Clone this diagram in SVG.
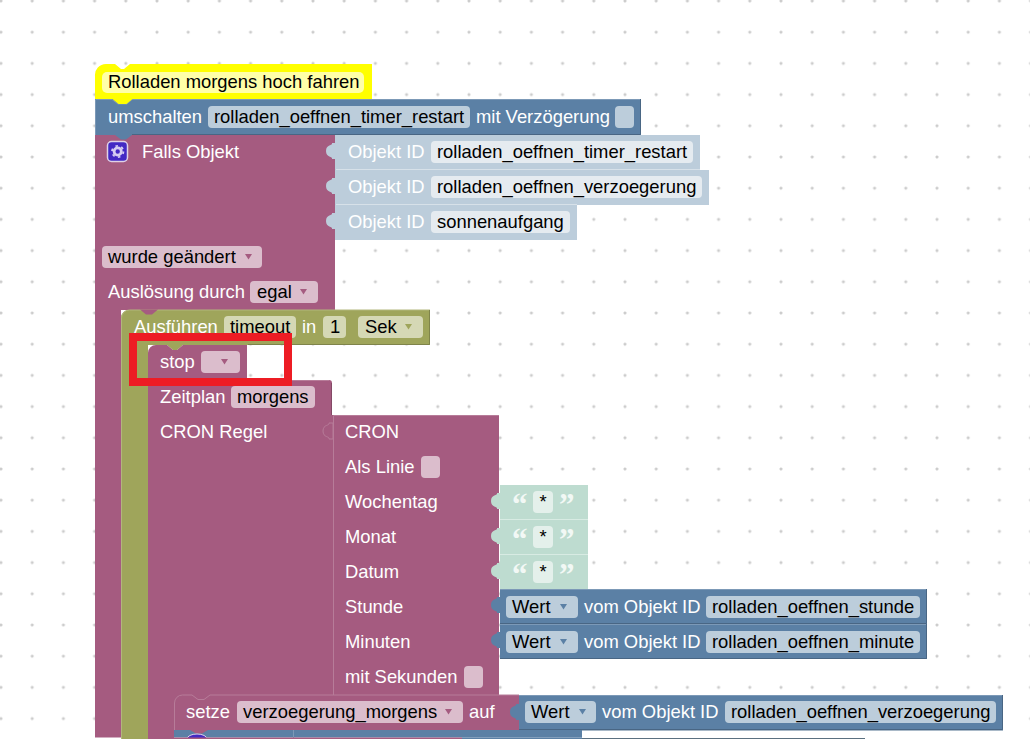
<svg xmlns="http://www.w3.org/2000/svg" width="1030" height="739" viewBox="0 0 1030 739">
<style>
text{font-family:"Liberation Sans",Arial,sans-serif;font-size:18.4px}
.w{fill:#fff}.d{fill:#000}
.pu{fill:#a55b80}.bl{fill:#5b80a5}.ol{fill:#9fa55b}.lb{fill:#bccddb}.gr{fill:#bedcd0}
.fp{fill:#dbbdcc}.fb{fill:#bccddb}.fo{fill:#d5d8b5}.fl{fill:#e5ebf0}.fg{fill:#e4f0eb}
.q{fill:#f2f8f5;font-family:"Liberation Serif",serif;font-weight:bold;font-size:31px}
.dpu,.dbl,.dol{fill:none;stroke-width:1}
.dpu{stroke:#844966}.dbl{stroke:#496684}.dol{stroke:#7f844a}
.hpu{stroke:#b77c99;fill:none}.hbl{stroke:#7c99b7;fill:none}.hol{stroke:#b2b77c;fill:none}.hlb{stroke:#d7e1e9;fill:none}.hgr{stroke:#d8ebe3;fill:none}
</style>
<defs>
<pattern id="grid" x="0" y="0" width="31.2" height="31.2" patternUnits="userSpaceOnUse"><circle cx="1" cy="1" r="1.5" fill="#ccc"/><circle cx="32.2" cy="1" r="1.5" fill="#ccc"/><circle cx="1" cy="32.2" r="1.5" fill="#ccc"/></pattern>
<path id="tab" d="M1,0 L-3,0 C-2,3 -9,1 -9,8 C-9,15 -2,13 -3,16 L1,16 z"/>
<polygon id="arrow" points="0,0 7,0 3.5,5.5"/>
</defs>
<rect width="1030" height="739" fill="#fff"/>
<rect width="1030" height="739" fill="url(#grid)"/>
<g id="connectors"/>
<g id="comment-hat">
<path d="M95,99 V76 a11,11 0 0 1 11,-12 h9 l6,5 h3 l6,-5 H372 V99 z" fill="#ffff00"/>
<rect x="102" y="72" width="262" height="21" rx="5" fill="#ffffa8"/>
<text x="108" y="88" class="d">Rolladen morgens hoch fahren</text>
</g>
<g id="falls-objekt">
<path class="pu" d="M95,135 H335 V310 H121 V739 H95 z"/>
<rect x="107.500" y="141.500" width="20" height="20" rx="4" fill="#4329c4" stroke="#e0d2e6" stroke-width="1.500"/>
<circle cx="117.700" cy="151.500" r="3.600" fill="none" stroke="#d6cdf2" stroke-width="2.800"/>
<circle cx="117.700" cy="151.500" r="5.700" fill="none" stroke="#d6cdf2" stroke-width="1.800" stroke-dasharray="2.500 3.470"/>
<text x="142" y="158" class="w">Falls Objekt</text>
<rect x="102" y="246" width="160" height="22" rx="4" class="fp"/>
<text x="108" y="263" class="d">wurde geändert</text>
<use href="#arrow" x="245" y="254" class="pu"/>
<text x="108" y="298" class="w">Auslösung durch</text>
<rect x="250" y="281" width="68" height="22" rx="4" class="fp"/>
<text x="257" y="298" class="d">egal</text>
<use href="#arrow" x="300" y="289" class="pu"/>
</g>
<g id="umschalten">
<path class="bl" d="M95,99 H641 V135 H132 l-6,4.500 h-5 l-6,-4.500 H95 z"/>
<path class="hbl" d="M95.500,135 V99.500 H112 l6,4.500 h9 l5,-4.500 H641"/>
<path class="dbl" d="M640.500,99 V134.500 H132"/>
<path d="M112.500,99 l6,5 h8 l6,-5 z" fill="#ffff00"/>
<text x="108" y="123" class="w">umschalten</text>
<rect x="208" y="106" width="262" height="22" rx="4" class="fb"/>
<text x="214" y="123" class="d">rolladen_oeffnen_timer_restart</text>
<text x="476" y="123" class="w">mit Verzögerung</text>
<rect x="615" y="106" width="19" height="22" rx="4" class="fb"/>
</g>
<g id="objekt-1">
<rect x="335" y="135" width="365" height="35" class="lb"/>
<use href="#tab" x="335" y="143" class="lb"/>
<path class="hlb" d="M336,169.500 H700"/>
<text x="348" y="158" class="w">Objekt ID</text>
<rect x="431" y="141" width="262" height="22" rx="4" class="fl"/>
<text x="437" y="158" class="d">rolladen_oeffnen_timer_restart</text>
</g>
<g id="objekt-2">
<rect x="335" y="170" width="374" height="35" class="lb"/>
<use href="#tab" x="335" y="178" class="lb"/>
<path class="hlb" d="M336,204.500 H577"/>
<text x="348" y="193" class="w">Objekt ID</text>
<rect x="431" y="176" width="271" height="22" rx="4" class="fl"/>
<text x="437" y="193" class="d">rolladen_oeffnen_verzoegerung</text>
</g>
<g id="objekt-3">
<rect x="335" y="205" width="242" height="35" class="lb"/>
<use href="#tab" x="335" y="213" class="lb"/>
<text x="348" y="228" class="w">Objekt ID</text>
<rect x="431" y="211" width="139" height="22" rx="4" class="fl"/>
<text x="437" y="228" class="d">sonnenaufgang</text>
</g>
<g id="ausfuehren">
<path class="ol" d="M121,739 V318 a8,8 0 0 1 8,-8 H430 V345 H183 l-6,5 h-4 l-6,-5 H148 V739 z"/>
<path class="hol" d="M121.500,739 V318 a8,8 0 0 1 8,-8 H430"/>
<path class="dol" d="M429.500,310 V344.500 H248"/>
<path class="pu" d="M140,309.500 l6,5 h6 l6,-5 z"/>
<text x="134" y="333" class="w">Ausführen</text>
<rect x="224" y="316" width="72" height="22" rx="4" class="fo"/>
<text x="230" y="333" class="d">timeout</text>
<text x="302" y="333" class="w">in</text>
<rect x="323" y="316" width="23" height="22" rx="4" class="fo"/>
<text x="330" y="333" class="d">1</text>
<rect x="358" y="316" width="65" height="22" rx="4" class="fo"/>
<text x="365" y="333" class="d">Sek</text>
<use href="#arrow" x="405" y="324" class="ol"/>
</g>
<g id="stop">
<path class="pu" d="M148,380 V353 a8,8 0 0 1 8,-8 H167 l6,5 h4 l6,-5 H247 V380 z"/>
<text x="160" y="368" class="w">stop</text>
<rect x="201" y="351" width="39" height="22" rx="4" class="fp"/>
<use href="#arrow" x="221" y="359" class="pu"/>
</g>
<g id="zeitplan">
<path class="pu" d="M148,380 H329 a3,3 0 0 1 3,3 V415 H333 V695 H185 V705 H174 V739 H148 z"/>
<path class="hpu" d="M248,380.500 H329"/>
<path class="dpu" d="M331.500,383 V415"/>
<text x="160" y="403" class="w">Zeitplan</text>
<rect x="231" y="386" width="84" height="22" rx="4" class="fp"/>
<text x="237" y="403" class="d">morgens</text>
<text x="160" y="438" class="w">CRON Regel</text>
</g>
<g id="cron">
<rect x="333" y="415" width="166" height="280" class="pu"/>
<path class="hpu" d="M333.500,695 V415.500 H499"/>
<use href="#tab" x="332" y="423" class="pu" stroke="#b77c99"/>
<text x="345" y="438" class="w">CRON</text>
<text x="345" y="473" class="w">Als Linie</text>
<rect x="421" y="456" width="19" height="22" rx="4" class="fp"/>
<text x="345" y="508" class="w">Wochentag</text>
<text x="345" y="543" class="w">Monat</text>
<text x="345" y="578" class="w">Datum</text>
<text x="345" y="613" class="w">Stunde</text>
<text x="345" y="648" class="w">Minuten</text>
<text x="345" y="683" class="w">mit Sekunden</text>
<rect x="464" y="666" width="19" height="22" rx="4" class="fp"/>
</g>
<g id="text-wochentag">
<rect x="500" y="485" width="88" height="35" class="gr"/>
<path class="hgr" d="M500,519.500 H588"/>
<use href="#tab" x="500" y="493" class="gr"/>
<text x="512" y="515" class="q">“</text>
<rect x="533" y="491" width="20" height="22" rx="4" class="fg"/>
<text x="543" y="508" class="d" text-anchor="middle">*</text>
<text x="559" y="515" class="q">”</text>
</g>
<g id="text-monat">
<rect x="500" y="520" width="88" height="35" class="gr"/>
<path class="hgr" d="M500,554.500 H588"/>
<use href="#tab" x="500" y="528" class="gr"/>
<text x="512" y="550" class="q">“</text>
<rect x="533" y="526" width="20" height="22" rx="4" class="fg"/>
<text x="543" y="543" class="d" text-anchor="middle">*</text>
<text x="559" y="550" class="q">”</text>
</g>
<g id="text-datum">
<rect x="500" y="555" width="88" height="35" class="gr"/>
<use href="#tab" x="500" y="563" class="gr"/>
<text x="512" y="585" class="q">“</text>
<rect x="533" y="561" width="20" height="22" rx="4" class="fg"/>
<text x="543" y="578" class="d" text-anchor="middle">*</text>
<text x="559" y="585" class="q">”</text>
</g>
<g id="wert-stunde">
<rect x="500" y="589" width="427" height="35" class="bl"/>
<path class="hbl" d="M500,589.500 H927"/>
<path class="dbl" d="M500,623.500 H926.500 V589"/>
<use href="#tab" x="500" y="597" class="bl"/>
<rect x="506" y="596" width="72" height="22" rx="4" class="fb"/>
<text x="512" y="613" class="d">Wert</text>
<use href="#arrow" x="560" y="604" class="bl"/>
<text x="584" y="613" class="w">vom Objekt ID</text>
<rect x="706" y="596" width="214" height="22" rx="4" class="fb"/>
<text x="712" y="613" class="d">rolladen_oeffnen_stunde</text>
</g>
<g id="wert-minute">
<rect x="500" y="624" width="427" height="35" class="bl"/>
<path class="hbl" d="M500,624.500 H927"/>
<path class="dbl" d="M500,658.500 H926.500 V624"/>
<use href="#tab" x="500" y="632" class="bl"/>
<rect x="506" y="631" width="72" height="22" rx="4" class="fb"/>
<text x="512" y="648" class="d">Wert</text>
<use href="#arrow" x="560" y="639" class="bl"/>
<text x="584" y="648" class="w">vom Objekt ID</text>
<rect x="706" y="631" width="214" height="22" rx="4" class="fb"/>
<text x="712" y="648" class="d">rolladen_oeffnen_minute</text>
</g>
<g id="setze">
<path class="pu" d="M174,730 V703 a8,8 0 0 1 8,-8 H519 V730 z"/>
<path class="hpu" d="M174.500,730 V703 a8,8 0 0 1 8,-8 H192 l6,4.500 h6 l6,-4.500 H519"/>
<text x="186" y="718" class="w">setze</text>
<rect x="237" y="701" width="226" height="22" rx="4" class="fp"/>
<text x="243" y="718" class="d">verzoegerung_morgens</text>
<use href="#arrow" x="445" y="709" class="pu"/>
<text x="469" y="718" class="w">auf</text>
</g>
<g id="wert-verz">
<rect x="519" y="695" width="484" height="35" class="bl"/>
<path class="hbl" d="M519,695.500 H1003"/>
<path class="dbl" d="M519,729.500 H1002.500 V695"/>
<path d="M582,730.500 H1003" stroke="#a9b9c8"/>
<use href="#tab" x="519" y="704" class="bl"/>
<rect x="525" y="701" width="71" height="22" rx="4" class="fb"/>
<text x="531" y="718" class="d">Wert</text>
<use href="#arrow" x="579" y="709" class="bl"/>
<text x="602" y="718" class="w">vom Objekt ID</text>
<rect x="725" y="701" width="271" height="22" rx="4" class="fb"/>
<text x="731" y="718" class="d">rolladen_oeffnen_verzoegerung</text>
</g>
<g id="next-row">
<rect x="174" y="730" width="408" height="7.500" class="bl"/>
<path class="pu" d="M190,730 l6,3.500 h6 l6,-3.500 z"/>
<path d="M293.500,730 V738" stroke="#7c99b7"/>
<path d="M187,739 a10,5 0 0 1 20,0 z" fill="#4329c4" stroke="#e0d2e6"/>
<rect x="174" y="737.500" width="288" height="1.500" class="pu"/>
<rect x="462" y="737.500" width="120" height="1.500" class="bl"/>
<path d="M582,738.500 H865" stroke="#5b7080"/>
</g>
<rect x="95" y="737.500" width="26" height="1.500" fill="#fff"/>
<rect id="highlight" x="133" y="337" width="155" height="45" fill="none" stroke="#ed1c24" stroke-width="8"/>
</svg>
